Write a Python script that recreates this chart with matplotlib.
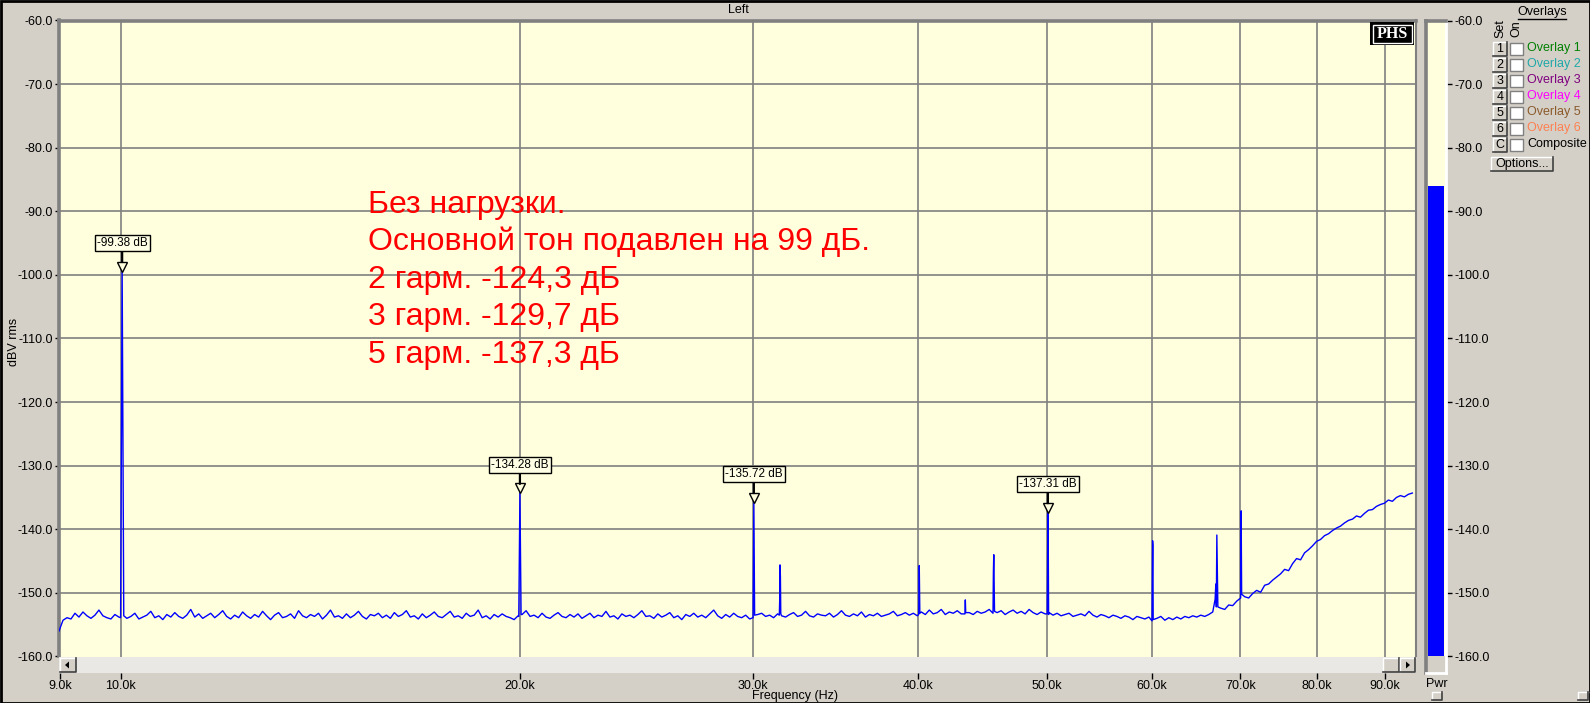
import numpy as np
import matplotlib
matplotlib.use('Agg')
import matplotlib.pyplot as plt
from matplotlib.patches import Rectangle, Polygon
from matplotlib.lines import Line2D
import matplotlib.transforms as mtrans

plt.rcParams['font.family'] = ['Liberation Sans', 'DejaVu Sans']

# ---- data ----
f_start, f_stop = 8980, 95000
floor_start, floor_stop = 8980, 94400

# noise floor (dBV rms), log-spaced bins from floor_start to floor_stop
noise_db = [
    -156.0, -154.3, -153.9, -154.1, -153.2, -153.8, -153.0, -153.6, -154.0, -153.5, -152.7, -153.6, -153.9, -154.1, -153.4, -153.8,
    -153.6, -154.0, -153.7, -153.2, -154.1, -153.8, -153.5, -152.9, -153.9, -153.6, -154.2, -153.4, -153.8, -153.1, -153.7, -154.0,
    -153.5, -152.6, -153.8, -153.3, -154.0, -153.6, -153.2, -153.9, -153.4, -152.8, -153.7, -154.1, -153.5, -153.9, -153.0, -153.6,
    -154.0, -153.4, -153.8, -152.9, -153.6, -154.2, -153.5, -153.1, -153.9, -153.7, -153.3, -154.0, -152.8, -153.6, -153.9, -153.4,
    -153.7, -153.2, -154.1, -153.5, -152.7, -153.8, -153.6, -154.0, -153.3, -153.9, -153.5, -152.9, -153.7, -154.1, -153.4, -153.6,
    -153.2, -153.9, -153.5, -154.0, -153.1, -153.7, -153.4, -152.8, -153.8, -153.6, -154.1, -153.3, -153.9, -153.5, -153.0, -153.7,
    -153.9, -153.4, -152.9, -153.8, -153.6, -154.0, -153.2, -153.7, -153.5, -152.7, -153.9, -153.6, -154.1, -153.4, -153.8, -153.3,
    -153.7, -153.9, -154.2, -153.6, -153.4, -152.8, -153.7, -153.5, -153.9, -153.2, -153.8, -154.0, -153.5, -153.1, -153.7, -153.9,
    -153.4, -153.8, -153.3, -154.0, -153.6, -153.2, -153.9, -153.5, -153.7, -152.9, -153.8, -153.6, -154.1, -153.3, -153.7, -153.5,
    -153.9, -153.4, -152.8, -153.7, -153.6, -154.0, -153.3, -153.8, -153.5, -153.1, -153.9, -153.6, -154.2, -153.4, -153.7, -153.2,
    -153.8, -153.5, -153.9, -153.3, -152.7, -153.6, -154.0, -153.4, -153.8, -153.2, -153.7, -153.9, -153.5, -154.1, -153.6, -153.4,
    -153.2, -153.7, -153.5, -153.9, -153.3, -153.6, -153.8, -153.4, -153.1, -153.7, -153.5, -152.9, -153.6, -153.8, -153.3, -153.5,
    -153.6, -153.2, -153.8, -153.4, -152.8, -153.5, -153.7, -153.3, -153.6, -153.0, -153.8, -153.4, -153.6, -153.2, -153.7, -153.5,
    -153.3, -152.9, -153.6, -153.4, -153.1, -153.5, -153.2, -153.6, -153.0, -153.4, -152.7, -153.3, -153.1, -152.6, -153.4, -153.0,
    -153.2, -152.8, -153.3, -152.5, -153.1, -153.4, -152.9, -153.2, -153.0, -152.6, -153.3, -153.1, -152.8, -153.4, -153.0, -152.7,
    -153.2, -152.9, -153.3, -152.6, -153.1, -153.4, -153.0, -153.3, -153.1, -153.5, -153.2, -153.6, -153.4, -153.2, -153.7, -153.5,
    -153.3, -153.6, -152.9, -153.5, -153.8, -153.4, -153.6, -153.9, -153.5, -153.7, -154.0, -153.6, -153.8, -154.2, -153.7, -153.9,
    -154.1, -153.8, -154.5, -154.0, -153.7, -154.3, -153.9, -154.2, -153.8, -154.1, -153.7, -153.9, -153.6, -153.8, -153.5, -153.7,
    -153.4, -153.0, -152.9, -152.4, -152.6, -151.9, -152.0, -151.3, -150.9, -150.6, -150.8, -150.1, -149.6, -149.9, -148.8, -148.6,
    -148.0, -147.5, -147.0, -146.3, -146.5, -145.4, -144.6, -144.8, -143.7, -143.2, -142.6, -141.9, -141.6, -141.0, -140.7, -140.2,
    -139.8, -139.5, -139.0, -138.6, -138.4, -137.9, -138.1, -137.5, -137.0, -136.9, -136.4, -136.1, -135.9, -135.4, -135.6, -135.0,
    -134.7, -134.9, -134.5, -134.3,
]

# spectral lines: bins around each peak (Hz, dBV)
peak_freqs = [
    [9995, 10008, 10022, 10036, 10050],
    [19970, 19990, 20010, 20030, 20050],
    [30010, 30030, 30050, 30070, 30090],
    [31410, 31430, 31450, 31470, 31490],
    [40020, 40040, 40060, 40080, 40100],
    [43370, 43400, 43430],
    [45540, 45570, 45600, 45630, 45660],
    [50040, 50070, 50100, 50130, 50160],
    [60040, 60070, 60100, 60130, 60160],
    [67000, 67080, 67140, 67200, 67260, 67320],
    [70040, 70070, 70100, 70130, 70160],
]
peak_db = [
    [-153.9, -125.8, -99.38, -125.5, -153.6],
    [-153.7, -144.0, -134.28, -144.2, -153.4],
    [-153.9, -144.4, -135.72, -144.3, -153.5],
    [-153.5, -151.2, -145.6, -147.5, -153.3],
    [-153.4, -149.5, -145.7, -150.0, -153.2],
    [-153.3, -151.1, -153.1],
    [-153.2, -146.8, -144.0, -148.0, -152.9],
    [-153.3, -144.8, -137.31, -142.0, -153.4],
    [-154.4, -148.3, -141.8, -142.5, -154.2],
    [-151.0, -148.6, -152.2, -140.9, -146.7, -152.2],
    [-150.8, -144.0, -137.1, -144.5, -150.2],
]

# markers
marker_freqs = [10022, 20010, 30050, 50100]
marker_db = [-99.38, -134.28, -135.72, -137.31]

pwr_level = -86.1

notes = ['Без нагрузки.',
         'Основной тон подавлен на 99 дБ.',
         '2 гарм. -124,3 дБ',
         '3 гарм. -129,7 дБ',
         '5 гарм. -137,3 дБ']

x_ticks = [9000, 10000, 20000, 30000, 40000, 50000, 60000, 70000, 80000, 90000]
x_labels = ['9.0k', '10.0k', '20.0k', '30.0k', '40.0k', '50.0k', '60.0k', '70.0k', '80.0k', '90.0k']
y_ticks = list(range(-60, -161, -10))
y_labels = ['%.1f' % v for v in y_ticks]

overlay_names = ['Overlay 1', 'Overlay 2', 'Overlay 3', 'Overlay 4', 'Overlay 5', 'Overlay 6', 'Composite']
overlay_keys = ['1', '2', '3', '4', '5', '6', 'C']
overlay_colors = ['#008000', '#1FA8A8', '#800080', '#FF00FF', '#8B5A2B', '#FF8050', '#000000']

# ---- build the trace ----
noise_f = np.geomspace(floor_start, floor_stop, len(noise_db))
noise_a = np.array(noise_db)
keep = np.ones(len(noise_f), bool)
for pf in peak_freqs:
    keep &= ~((noise_f >= pf[0]) & (noise_f <= pf[-1]))
trace_f = np.concatenate([noise_f[keep]] + [np.array(p, float) for p in peak_freqs])
trace_db = np.concatenate([noise_a[keep]] + [np.array(p, float) for p in peak_db])
order = np.argsort(trace_f)
trace_f, trace_db = trace_f[order], trace_db[order]

# ---- figure ----
W, H = 1590, 703
BG = '#D4D0C8'
PLOT_BG = '#FFFFDE'
GRID = '#808080'
FS = 9
fig = plt.figure(figsize=(W / 100, H / 100), dpi=100, facecolor=BG)


def fx(x):
    return x / W


def fy(y):
    return 1 - y / H


def box(x0, y0, x1, y1, **kw):
    r = Rectangle((fx(x0), fy(y1)), (x1 - x0) / W, (y1 - y0) / H, transform=fig.transFigure, **kw)
    fig.add_artist(r)
    return r


def button(x0, y0, x1, y1, label=None, fs=FS):
    box(x0, y0, x1, y1, fc=BG, ec='none')
    fig.add_artist(Line2D([fx(x0), fx(x0), fx(x1)], [fy(y1), fy(y0), fy(y0)], color='white', lw=1, transform=fig.transFigure))
    fig.add_artist(Line2D([fx(x0), fx(x1), fx(x1)], [fy(y1), fy(y1), fy(y0)], color='#404040', lw=1.2, transform=fig.transFigure))
    if label:
        fig.text(fx((x0 + x1) / 2), fy((y0 + y1) / 2), label, ha='center', va='center', fontsize=fs, color='black')


# main plot
PL, PR, PT, PB = 59, 1416, 20.5, 656.5
ax = fig.add_axes([fx(PL), fy(PB), (PR - PL) / W, (PB - PT) / H])
ax.set_facecolor(PLOT_BG)
ax.set_xscale('log')
ax.set_xlim(f_start, f_stop)
ax.set_ylim(-160, -60)
ax.plot(trace_f, trace_db, color='#0000FF', lw=1.0, zorder=3)
for xv in x_ticks[1:]:
    ax.axvline(xv, color=GRID, lw=1.2, zorder=1)
for yv in y_ticks[1:-1]:
    ax.axhline(yv, color=GRID, lw=1.2, zorder=1)
ax.set_xticks([])
ax.set_xticks([], minor=True)
ax.set_yticks(y_ticks)
ax.set_yticklabels(y_labels)
ax.tick_params(axis='y', direction='out', length=3, width=1, pad=1.5, labelsize=FS, colors='black')
for s in ['left', 'top']:
    ax.spines[s].set_color(GRID)
    ax.spines[s].set_linewidth(2.6)
ax.spines['right'].set_color(GRID)
ax.spines['right'].set_linewidth(1.5)
ax.spines['bottom'].set_visible(False)

# markers
tri_tf = mtrans.offset_copy(ax.transData, fig=fig, x=0, y=3.2, units='points')
for mf, md in zip(marker_freqs, marker_db):
    ax.plot([mf], [md], marker='v', ms=6.5, mfc=PLOT_BG, mec='black', mew=1, transform=tri_tf, zorder=5)
    ax.annotate('%.2f dB' % md, xy=(mf, md), xytext=(0, 28), textcoords='offset pixels',
                ha='center', va='center', fontsize=8.5, zorder=6,
                bbox=dict(boxstyle='square,pad=0.18', fc='#FFFFE6', ec='black', lw=1),
                arrowprops=dict(arrowstyle='-', color='black', lw=1.6, shrinkA=0, shrinkB=6.5))

# scrollbar with the frequency labels
sb = fig.add_axes([fx(PL), fy(673), (PR - PL) / W, (673 - PB) / H])
sb.set_facecolor('#E9E8E4')
sb.set_xscale('log')
sb.set_xlim(f_start, f_stop)
sb.set_ylim(0, 1)
sb.set_yticks([])
sb.set_xticks(x_ticks)
sb.set_xticklabels(x_labels)
sb.set_xticks([], minor=True)
sb.tick_params(axis='x', direction='out', length=4, width=1, pad=1, labelsize=FS, colors='black')
for s in sb.spines.values():
    s.set_visible(False)
button(60, 658, 76, 672)
fig.add_artist(Polygon([[fx(65), fy(665)], [fx(69), fy(661.5)], [fx(69), fy(668.5)]], closed=True, fc='black', transform=fig.transFigure))
button(1383, 658, 1399, 672)
button(1400, 658, 1415, 672)
fig.add_artist(Polygon([[fx(1410), fy(665)], [fx(1406), fy(661.5)], [fx(1406), fy(668.5)]], closed=True, fc='black', transform=fig.transFigure))

fig.text(fx(795), fy(696), 'Frequency (Hz)', ha='center', va='center', fontsize=FS)
fig.text(fx(14), fy(342), 'dBV rms', ha='center', va='center', rotation=90, fontsize=FS)
fig.text(fx(738), fy(10), 'Left', ha='center', va='center', fontsize=FS)

# PHS logo
box(1370, 22, 1414, 45, fc='black', ec='none')
box(1372.5, 24.5, 1411.5, 42.5, fc='none', ec='white', lw=1)
fig.text(fx(1392), fy(33.5), 'PHS', ha='center', va='center', fontsize=11.5, fontweight='bold',
         family='Liberation Serif', color='white')

# red notes
for i, line in enumerate(notes):
    fig.text(fx(368), fy(212.5 + 37.5 * i), line, ha='left', va='baseline', fontsize=23, color='#FF0000')

# Pwr bar
pw = fig.add_axes([fx(1426), fy(673), 20 / W, (673 - PT) / H])
pw.set_facecolor(PLOT_BG)
pw.set_xlim(-0.5, 0.5)
pw.set_ylim(-60 - (673 - PT) / (PB - PT) * 100, -60)
pw.axhspan(-200, -160, color=BG, lw=0)
pw.bar([0], [pwr_level + 160], bottom=-160, width=0.8, color='#0000FF')
pw.set_xticks([])
pw.yaxis.tick_right()
pw.set_yticks(y_ticks)
pw.set_yticklabels(y_labels)
pw.tick_params(axis='y', direction='out', length=4, width=1, pad=2, labelsize=FS, colors='black')
pw.spines['left'].set_color(GRID)
pw.spines['left'].set_linewidth(2.6)
pw.spines['top'].set_color(GRID)
pw.spines['top'].set_linewidth(2.6)
pw.spines['right'].set_color('white')
pw.spines['right'].set_linewidth(2)
pw.spines['bottom'].set_color('white')
pw.spines['bottom'].set_linewidth(2)
fig.text(fx(1437), fy(684), 'Pwr', ha='center', va='center', fontsize=FS)

# overlays panel
fig.text(fx(1542), fy(12), 'Overlays', ha='center', va='center', fontsize=FS)
fig.add_artist(Line2D([fx(1518), fx(1566)], [fy(18.5), fy(18.5)], color='black', lw=1, transform=fig.transFigure))
fig.text(fx(1500), fy(29), 'Set', ha='center', va='center', rotation=90, fontsize=FS)
fig.text(fx(1516), fy(29), 'On', ha='center', va='center', rotation=90, fontsize=FS)
for i, (k, name, col) in enumerate(zip(overlay_keys, overlay_names, overlay_colors)):
    yc = 48.5 + 16 * i
    button(1493, yc - 7, 1507, yc + 7, k)
    box(1510, yc - 6, 1523, yc + 6, fc='white', ec='#808080', lw=1)
    fig.text(fx(1527), fy(yc), name, ha='left', va='center', fontsize=FS, color=col)
button(1491, 157, 1553, 171, 'Options...')

# tiny window buttons at the bottom
button(1432, 692, 1442, 700)
button(1578, 692, 1588, 700)

# window border
box(0.5, 0.5, W - 0.5, H - 0.5, fc='none', ec='black', lw=2)

fig.savefig('out.png', dpi=100, facecolor=BG)
